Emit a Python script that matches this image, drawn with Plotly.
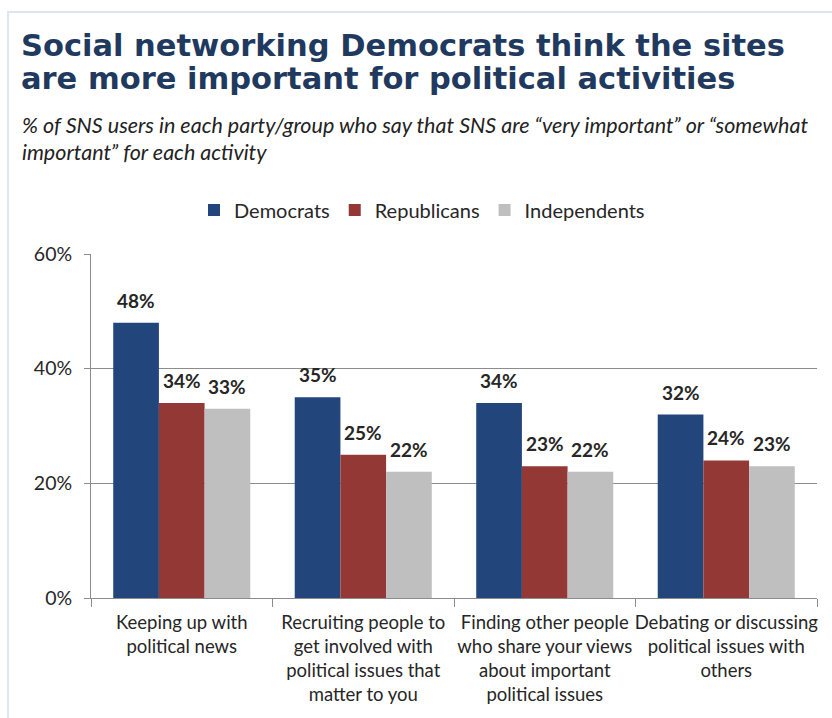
import plotly.graph_objects as go

# Survey results: share of SNS users in each group rating the sites important
categories = [
    "Keeping up with<br>political news",
    "Recruiting people to<br>get involved with<br>political issues that<br>matter to you",
    "Finding other people<br>who share your views<br>about important<br>political issues",
    "Debating or discussing<br>political issues with<br>others",
]
democrats = [48, 35, 34, 32]
republicans = [34, 25, 23, 24]
independents = [33, 22, 22, 23]
y_ticks = [0, 20, 40, 60]
y_tick_labels = ["0%", "20%", "40%", "60%"]

series = [
    ("Democrats", democrats, "#22467B"),
    ("Republicans", republicans, "#943836"),
    ("Independents", independents, "#BFBFBF"),
]

W, H = 832, 718
ML, MR, MT, MB = 91, 15, 254, 120
PW, PH = W - ML - MR, H - MT - MB
BARGAP = 0.245
bar_w = (1 - BARGAP) / len(series)

TXT = "#262626"
FONT = "Lato"

fig = go.Figure()
for name, vals, color in series:
    fig.add_trace(go.Bar(
        name=name, x=list(range(len(categories))), y=vals,
        marker=dict(color=color, line=dict(width=0)),
    ))

# value labels above each bar
for k, (name, vals, color) in enumerate(series):
    offset = (k - (len(series) - 1) / 2) * bar_w
    for i, v in enumerate(vals):
        fig.add_annotation(
            x=i + offset, y=v, xref="x", yref="y",
            text=f"{v}%", showarrow=False, yanchor="bottom", yshift=9,
            font=dict(family=FONT, size=19, color=TXT, weight="bold"),
        )

def px_x(p):
    return (p - ML) / PW

def px_y(p):
    return (H - MB - p) / PH

# title and subtitle
for text, y in [("Social networking Democrats think the sites", 45),
                ("are more important for political activities", 78)]:
    fig.add_annotation(
        xref="paper", yref="paper", x=px_x(19), y=px_y(y),
        xanchor="left", yanchor="middle", showarrow=False, text=text,
        font=dict(family="DejaVu Sans", size=30.5, color="#1F3A5E", weight="bold"),
    )
for text, y in [("% of SNS users in each party/group who say that SNS are \u201cvery important\u201d or \u201csomewhat", 125),
                ("important\u201d for each activity", 152)]:
    fig.add_annotation(
        xref="paper", yref="paper", x=px_x(20), y=px_y(y),
        xanchor="left", yanchor="middle", showarrow=False, text=text,
        font=dict(family=FONT, size=21.5, color="#222222", style="italic"),
    )

# light frame along the top and left edges
fig.add_shape(
    type="rect", xref="paper", yref="paper",
    x0=px_x(8), x1=px_x(W + 20), y0=px_y(H + 20), y1=px_y(12),
    line=dict(color="#DCE6F0", width=2), layer="below",
)

fig.update_layout(
    width=W, height=H,
    margin=dict(l=ML, r=MR, t=MT, b=MB, pad=0),
    paper_bgcolor="white", plot_bgcolor="white",
    barmode="group", bargap=BARGAP, bargroupgap=0,
    showlegend=True,
    legend=dict(
        orientation="h", xref="paper", yref="paper",
        x=px_x(422), y=px_y(210), xanchor="center", yanchor="middle",
        font=dict(family=FONT, size=20, color=TXT),
        itemwidth=30, tracegroupgap=0,
    ),
    font=dict(family=FONT, size=18, color=TXT),
    xaxis=dict(
        type="linear", range=[-0.5, len(categories) - 0.5],
        tickmode="array", tickvals=list(range(len(categories))), ticktext=categories,
        ticks="", showgrid=False, zeroline=False,
        showline=True, linecolor="#8C8C8C", linewidth=1,
        tickfont=dict(family=FONT, size=18.5, color=TXT),
        ticklabelstandoff=8,
        minor=dict(tickmode="linear", tick0=-0.5, dtick=1, ticks="outside",
                   ticklen=8, tickcolor="#8C8C8C", showgrid=False),
        fixedrange=True,
    ),
    yaxis=dict(
        range=[0, 60], tickmode="array", tickvals=y_ticks, ticktext=y_tick_labels,
        showgrid=True, gridcolor="#8C8C8C", gridwidth=1, zeroline=False,
        showline=True, linecolor="#8C8C8C", linewidth=1,
        ticks="outside", ticklen=6, tickcolor="#8C8C8C",
        tickfont=dict(family=FONT, size=19.5, color=TXT),
        ticklabelstandoff=8,
        fixedrange=True,
    ),
)

fig.write_html("out.html")
